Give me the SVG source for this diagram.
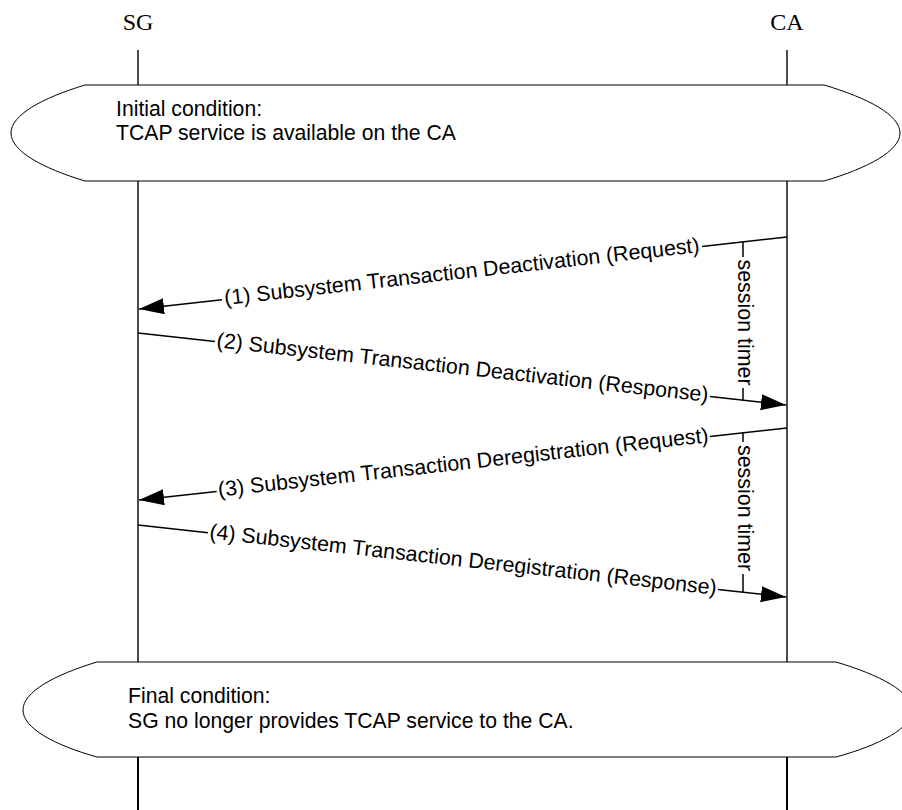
<svg xmlns="http://www.w3.org/2000/svg" width="902" height="810" viewBox="0 0 902 810">
<style>
.bg{fill:#fff}
.life{stroke:#000;stroke-width:1.4;fill:none}
.lifeb{stroke:#000;stroke-width:2;fill:none}
.cond{fill:#fff;stroke:#000;stroke-width:1}
.msg{stroke:#000;stroke-width:1.5;fill:none}
.ent{font-family:"Liberation Serif","Times New Roman",serif;font-size:24px;text-anchor:middle;fill:#000}
.ct{font-family:"Liberation Sans",Arial,sans-serif;font-size:21.2px;fill:#000}
.lbl{font-family:"Liberation Sans",Arial,sans-serif;font-size:21.4px;text-anchor:middle;fill:#000}
</style>
<defs>
<marker id="ah" markerUnits="userSpaceOnUse" markerWidth="30" markerHeight="20" refX="25" refY="8" orient="auto">
<path d="M0,0 L25,8 L0,16 z" fill="#000"/>
</marker>
</defs>
<rect class="bg" x="0" y="0" width="902" height="810"/>
<g id="SG">
<text class="ent" x="138" y="29.5">SG</text>
<line class="life" x1="138" y1="50" x2="138" y2="85"/>
<line class="life" x1="138" y1="181" x2="138" y2="662"/>
<line class="lifeb" x1="138" y1="757" x2="138" y2="810"/>
</g>
<g id="CA">
<text class="ent" x="787" y="29.5">CA</text>
<line class="life" x1="787" y1="50" x2="787" y2="85"/>
<line class="life" x1="787" y1="181" x2="787" y2="662"/>
<line class="lifeb" x1="787" y1="757" x2="787" y2="810"/>
</g>
<g id="initial">
<path class="cond" d="M85,85 L824,85 C868,98 900,115 900,133 C900,151 868,168 824,181 L85,181 C42,168 11,151 11,133 C11,115 42,98 85,85 Z"/>
<text class="ct" x="116" y="116">Initial condition:</text>
<text class="ct" x="116" y="140">TCAP service is available on the CA</text>
</g>
<g id="final">
<path class="cond" d="M97,662 L836,662 C880,675 912,692 912,710 C912,728 880,745 836,757 L97,757 C54,745 23,728 23,710 C23,692 54,675 97,662 Z"/>
<text class="ct" x="128" y="703">Final condition:</text>
<text class="ct" x="128" y="727.5">SG no longer provides TCAP service to the CA.</text>
</g>
<g id="connectors">
<line class="msg" x1="787" y1="237" x2="702" y2="246.4"/>
<line class="msg" x1="222" y1="299.8" x2="139" y2="309" marker-end="url(#ah)"/>
<text class="lbl" transform="translate(462,273.1) rotate(-6.34)" x="0" y="5.5">(1) Subsystem Transaction Deactivation (Request)</text>

<line class="msg" x1="138" y1="333" x2="215" y2="341.6"/>
<line class="msg" x1="710" y1="396.6" x2="786" y2="405" marker-end="url(#ah)"/>
<text class="lbl" transform="translate(462.5,369.05) rotate(6.34)" x="0" y="5.5">(2) Subsystem Transaction Deactivation (Response)</text>

<line class="msg" x1="787" y1="428" x2="710" y2="436.6"/>
<line class="msg" x1="216.7" y1="491.4" x2="139" y2="500" marker-end="url(#ah)"/>
<text class="lbl" transform="translate(463.4,463.96) rotate(-6.34)" x="0" y="5.5">(3) Subsystem Transaction Deregistration (Request)</text>

<line class="msg" x1="138" y1="525" x2="208" y2="532.8"/>
<line class="msg" x1="718" y1="589.4" x2="786" y2="597" marker-end="url(#ah)"/>
<text class="lbl" transform="translate(463,561.1) rotate(6.34)" x="0" y="5.5">(4) Subsystem Transaction Deregistration (Response)</text>

<line class="msg" x1="743" y1="241.9" x2="743" y2="257"/>
<line class="msg" x1="743" y1="388" x2="743" y2="400.2"/>
<text class="lbl" transform="translate(743,322.5) rotate(90)" x="0" y="5.5">session timer</text>

<line class="msg" x1="743" y1="432.9" x2="743" y2="442"/>
<line class="msg" x1="743" y1="574" x2="743" y2="592.2"/>
<text class="lbl" transform="translate(743,508) rotate(90)" x="0" y="5.5">session timer</text>
</g>
</svg>
